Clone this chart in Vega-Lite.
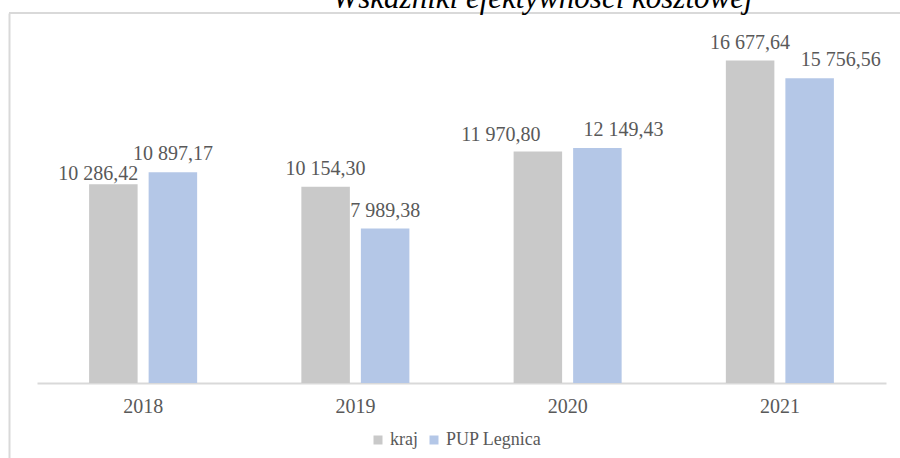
{
  "$schema": "https://vega.github.io/schema/vega-lite/v6.json",
  "autosize": {"type": "none"},
  "padding": {"left": 9, "top": 13, "right": 0, "bottom": 0},
  "width": 891,
  "height": 445,
  "background": "white",
  "title": {
    "text": "Wskaźniki efektywności kosztowej",
    "font": "Liberation Serif",
    "fontStyle": "italic",
    "fontWeight": "normal",
    "fontSize": 31,
    "color": "#000000",
    "anchor": "middle",
    "frame": "group",
    "baseline": "alphabetic",
    "offset": 3,
    "dy": 30,
    "dx": 88
  },
  "config": {
    "view": {"stroke": null},
    "font": "Liberation Serif"
  },
  "data": {
    "values": [
      {"year": "2018", "series": "kraj", "value": 10286.42, "label": "10 286,42"},
      {"year": "2018", "series": "PUP Legnica", "value": 10897.17, "label": "10 897,17"},
      {"year": "2019", "series": "kraj", "value": 10154.30, "label": "10 154,30"},
      {"year": "2019", "series": "PUP Legnica", "value": 7989.38, "label": "7 989,38"},
      {"year": "2020", "series": "kraj", "value": 11970.80, "label": "11 970,80"},
      {"year": "2020", "series": "PUP Legnica", "value": 12149.43, "label": "12 149,43"},
      {"year": "2021", "series": "kraj", "value": 16677.64, "label": "16 677,64"},
      {"year": "2021", "series": "PUP Legnica", "value": 15756.56, "label": "15 756,56"}
    ]
  },
  "layer": [
    {
      "transform": [{"aggregate": [{"op": "count", "as": "n"}]}],
      "mark": {"type": "rule", "color": "#d9d9d9", "strokeWidth": 2},
      "encoding": {
        "y": {
          "datum": 19137.9,
          "type": "quantitative",
          "scale": {"domain": [-3879.3, 19137.9], "nice": false, "zero": false},
          "axis": {
            "title": null,
            "orient": "left",
            "offset": 0,
            "labels": false,
            "ticks": false,
            "grid": false,
            "domain": true,
            "domainColor": "#d9d9d9",
            "domainWidth": 2
          }
        }
      }
    },
    {
      "layer": [
        {
          "mark": {"type": "bar"},
          "encoding": {
            "y2": {"datum": 0},
            "color": {
              "field": "series",
              "type": "nominal",
              "sort": ["kraj", "PUP Legnica"],
              "scale": {"domain": ["kraj", "PUP Legnica"], "range": ["#c9c9c9", "#b4c7e7"]},
              "legend": {
                "title": null,
                "orient": "none",
                "direction": "horizontal",
                "legendX": 360,
                "legendY": 418,
                "symbolType": "square",
                "symbolSize": 81,
                "symbolStrokeWidth": 0,
                "labelFont": "Liberation Serif",
                "labelFontSize": 18,
                "labelColor": "#595959",
                "labelOffset": 3,
                "columnPadding": 7,
                "padding": 0
              }
            }
          }
        },
        {
          "transform": [{"filter": "(datum.year == '2018' && datum.series == 'PUP Legnica') || (datum.year == '2019') || (datum.year == '2021' && datum.series == 'kraj')"}],
          "mark": {"type": "text", "baseline": "alphabetic", "dy": -12, "fontSize": 20, "color": "#595959", "font": "Liberation Serif"},
          "encoding": {"text": {"field": "label"}}
        },
        {
          "transform": [{"filter": "datum.year == '2018' && datum.series == 'kraj'"}],
          "mark": {"type": "text", "baseline": "alphabetic", "dx": -15, "dy": -4, "fontSize": 20, "color": "#595959", "font": "Liberation Serif"},
          "encoding": {"text": {"field": "label"}}
        },
        {
          "transform": [{"filter": "datum.year == '2020' && datum.series == 'kraj'"}],
          "mark": {"type": "text", "baseline": "alphabetic", "dx": -37, "dy": -11, "fontSize": 20, "color": "#595959", "font": "Liberation Serif"},
          "encoding": {"text": {"field": "label"}}
        },
        {
          "transform": [{"filter": "datum.year == '2020' && datum.series == 'PUP Legnica'"}],
          "mark": {"type": "text", "baseline": "alphabetic", "dx": 26, "dy": -12, "fontSize": 20, "color": "#595959", "font": "Liberation Serif"},
          "encoding": {"text": {"field": "label"}}
        },
        {
          "transform": [{"filter": "datum.year == '2021' && datum.series == 'PUP Legnica'"}],
          "mark": {"type": "text", "baseline": "alphabetic", "dx": 31, "dy": -12, "fontSize": 20, "color": "#595959", "font": "Liberation Serif"},
          "encoding": {"text": {"field": "label"}}
        }
      ],
      "encoding": {
        "x": {
          "field": "year",
          "type": "nominal",
          "sort": ["2018", "2019", "2020", "2021"],
          "scale": {"range": [28, 877], "paddingInner": 0.491, "paddingOuter": 0.2455},
          "axis": {
            "title": null,
            "orient": "bottom",
            "offset": -75,
            "labelAngle": 0,
            "ticks": false,
            "domainColor": "#d9d9d9",
            "domainWidth": 2,
            "labelFont": "Liberation Serif",
            "labelFontSize": 20,
            "labelColor": "#595959",
            "labelPadding": 13
          }
        },
        "xOffset": {
          "field": "series",
          "type": "nominal",
          "sort": ["kraj", "PUP Legnica"],
          "scale": {"paddingInner": 0.185, "paddingOuter": 0}
        },
        "y": {
          "field": "value",
          "type": "quantitative",
          "scale": {"domain": [-3879.3, 19137.9], "nice": false, "zero": false},
          "axis": {
            "title": null,
            "orient": "left",
            "offset": 0,
            "labels": false,
            "ticks": false,
            "grid": false,
            "domain": true,
            "domainColor": "#d9d9d9",
            "domainWidth": 2
          }
        }
      }
    }
  ]
}
